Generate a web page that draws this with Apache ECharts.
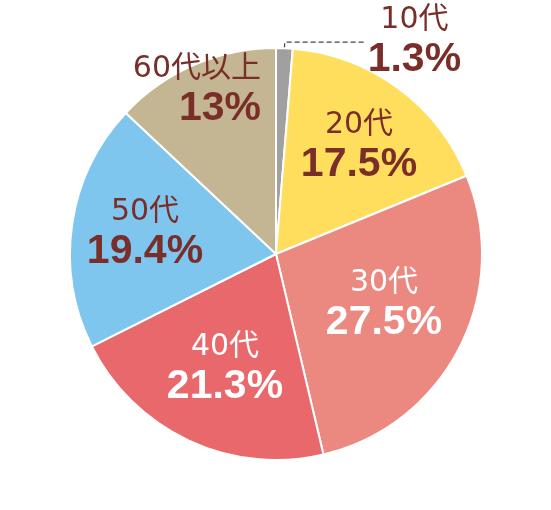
<!DOCTYPE html>
<html>
<head>
<meta charset="utf-8">
<script src="https://cdn.jsdelivr.net/npm/echarts@6/dist/echarts.min.js"></script>
<style>
html,body{margin:0;padding:0;background:#fff;}
#chart{width:551px;height:510px;}
</style>
</head>
<body>
<div id="chart"></div>
<script>
const categories = ['10代', '20代', '30代', '40代', '50代', '60代以上'];
const values = [1.3, 17.5, 27.5, 21.3, 19.4, 13];

const sliceColors = ['#A0A0A0', '#FFDE5E', '#EB8980', '#E9686B', '#7EC6ED', '#C4B693'];
const textColors = ['#7A2E29', '#7A2E29', '#FFFFFF', '#FFFFFF', '#7A2E29', '#7A2E29'];
const labelAnchors = [null, [359, 147, 'center'], [384, 305, 'center'], [225, 369, 'center'], [145, 234, 'center'], [261, 91, 'right']];

const nameFont = {fontFamily: 'DejaVu Sans, Noto Sans CJK JP', fontSize: 30, lineHeight: 36};
const valueFont = {fontFamily: 'Liberation Sans, Arial', fontWeight: 'bold', fontSize: 41, lineHeight: 44};

const chart = echarts.init(document.getElementById('chart'), null, {renderer: 'canvas'});

const data = categories.map((name, i) => {
  const item = {
    name: name,
    value: values[i],
    itemStyle: {color: sliceColors[i]},
    label: {color: textColors[i]}
  };
  if (i === 0) {
    item.label = {
      color: textColors[i],
      position: 'outside',
      distanceToLabelLine: 3,
      rich: {
        a: Object.assign({align: 'center'}, nameFont),
        b: Object.assign({align: 'center'}, valueFont)
      }
    };
    item.labelLine = {
      show: true,
      length: 6,
      length2: 80,
      lineStyle: {type: [5, 3], color: '#444444', width: 1.2}
    };
  }
  return item;
});

chart.setOption({
  backgroundColor: '#ffffff',
  animation: false,
  series: [{
    type: 'pie',
    center: [276, 254],
    radius: [0, 206],
    startAngle: 90,
    clockwise: true,
    avoidLabelOverlap: false,
    itemStyle: {borderColor: '#ffffff', borderWidth: 2},
    label: {
      show: true,
      position: 'inside',
      formatter: p => '{a|' + p.name + '}\n{b|' + p.value + '%}',
      rich: {a: nameFont, b: valueFont}
    },
    labelLine: {show: false},
    emphasis: {disabled: true},
    labelLayout: function (params) {
      const a = labelAnchors[params.dataIndex];
      if (!a) return {};
      return {x: a[0], y: a[1], align: a[2], verticalAlign: 'middle'};
    },
    data: data
  }]
});
</script>
</body>
</html>
